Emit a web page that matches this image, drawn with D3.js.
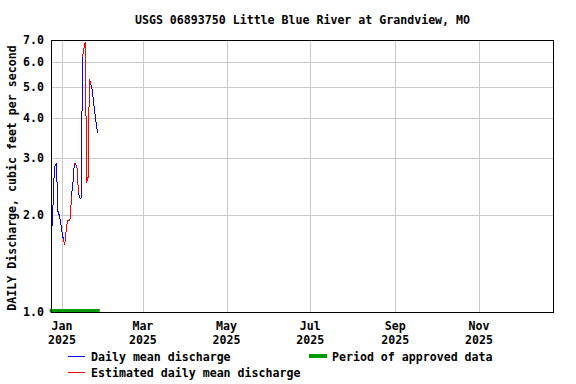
<!DOCTYPE html>
<html>
<head>
<meta charset="utf-8">
<script src="https://cdn.jsdelivr.net/npm/d3@7"></script>
<style>
	body { margin: 0; background: #fff; }
	svg text { font-family: "DejaVu Sans Mono", monospace; font-weight: bold; font-size: 11.6px; fill: #000; }
</style>
</head>
<body>
<div id="chart"></div>
<script>
// daily values, starting 2024-12-24
var startDate = '2024-12-24'
var dischargeValues = [1.81, 1.86, 2.55, 2.86, 2.90, 2.06, 2.00, 1.90, 1.78, 1.68,
	1.61, 1.78, 1.93, 1.92, 1.95, 2.30, 2.52, 2.90, 2.88, 2.80,
	2.35, 2.26, 2.26, 6.20, 6.60, 6.90, 2.52, 2.62, 5.30, 5.10,
	4.90, 4.50, 4.15, 3.85, 3.60]
// 1 = estimated
var estimatedFlags = [0, 0, 0, 0, 0, 0, 0, 0, 0, 0,
	1, 1, 1, 1, 1, 1, 0, 0, 1, 1,
	1, 0, 0, 0, 1, 1, 1, 1, 1, 1,
	0, 0, 0, 0, 0]
var approvedPeriod = ['2024-12-23', '2025-01-28T12:00']
var yTicks = [1, 2, 3, 4, 5, 6, 7]
var xTickDates = ['2025-01-01', '2025-03-01', '2025-05-01', '2025-07-01', '2025-09-01', '2025-11-01']
var xTickMonths = ['Jan', 'Mar', 'May', 'Jul', 'Sep', 'Nov']
var xTickYears = ['2025', '2025', '2025', '2025', '2025', '2025']
var xDomain = ['2024-12-24', '2025-12-25']
var titleText = 'USGS 06893750 Little Blue River at Grandview, MO'
var yLabel = 'DAILY Discharge, cubic feet per second'

var width = 576, height = 384
var plotL = 51, plotR = 553, plotT = 40, plotB = 312

var parse = function(s){ return new Date(s.length > 10 ? s : s + 'T00:00') }

var svg = d3.select('#chart').append('svg')
	.attr('width', width)
	.attr('height', height)

var x = d3.scaleTime()
	.domain(xDomain.map(parse))
	.range([plotL, plotR])
var y = d3.scaleLog()
	.domain([1, 7])
	.range([plotB, plotT])

var t0 = parse(startDate)
var data = dischargeValues.map(function(v, i){
	return { date: d3.timeDay.offset(t0, i), value: v, est: estimatedFlags[i] }
})

// grid
svg.append('g').selectAll('line')
	.data(yTicks.slice(1, -1))
	.enter().append('line')
	.attr('x1', plotL).attr('x2', plotR)
	.attr('y1', function(d){ return Math.round(y(d)) + 0.5 })
	.attr('y2', function(d){ return Math.round(y(d)) + 0.5 })
	.attr('stroke', '#c8c8c8')

svg.append('g').selectAll('line')
	.data(xTickDates)
	.enter().append('line')
	.attr('x1', function(d){ return Math.round(x(parse(d))) + 0.5 })
	.attr('x2', function(d){ return Math.round(x(parse(d))) + 0.5 })
	.attr('y1', plotT).attr('y2', plotB)
	.attr('stroke', '#c8c8c8')

// approved period bar
svg.append('rect')
	.attr('x', x(parse(approvedPeriod[0])))
	.attr('width', x(parse(approvedPeriod[1])) - x(parse(approvedPeriod[0])))
	.attr('y', plotB - 3)
	.attr('height', 3.5)
	.attr('fill', '#009900')

// discharge segments, coloured by the status of the end point
var line = d3.line()
	.x(function(d){ return x(d.date) })
	.y(function(d){ return y(d.value) })

var segs = []
for (var i = 1; i < data.length; i++){
	segs.push([data[i-1], data[i]])
}
svg.append('g').selectAll('path')
	.data(segs)
	.enter().append('path')
	.attr('d', line)
	.attr('fill', 'none')
	.attr('stroke-width', 1)
	.attr('shape-rendering', 'crispEdges')
	.attr('stroke', function(d){ return d[1].est ? '#ff0000' : '#0000ff' })

// frame
svg.append('rect')
	.attr('x', plotL + 0.5).attr('y', plotT + 0.5)
	.attr('width', plotR - plotL).attr('height', plotB - plotT)
	.attr('fill', 'none')
	.attr('stroke', '#000')

// y tick labels
svg.append('g').selectAll('text')
	.data(yTicks)
	.enter().append('text')
	.attr('x', 44)
	.attr('y', function(d){ return y(d) + 4 })
	.attr('text-anchor', 'end')
	.text(function(d){ return d3.format('.1f')(d) })

// x tick labels
var xl = svg.append('g').selectAll('g')
	.data(xTickDates)
	.enter().append('g')
xl.append('text')
	.attr('x', function(d){ return x(parse(d)) })
	.attr('y', 330)
	.attr('text-anchor', 'middle')
	.text(function(d, i){ return xTickMonths[i] })
xl.append('text')
	.attr('x', function(d){ return x(parse(d)) })
	.attr('y', 344)
	.attr('text-anchor', 'middle')
	.text(function(d, i){ return xTickYears[i] })

// title
svg.append('text')
	.attr('x', (plotL + plotR) / 2 + 0.5)
	.attr('y', 24)
	.attr('text-anchor', 'middle')
	.text(titleText)

// y axis label
svg.append('text')
	.attr('transform', 'translate(16,' + ((plotT + plotB) / 2 + 2) + ') rotate(-90)')
	.attr('text-anchor', 'middle')
	.text(yLabel)

// legend
var legend = [
	{ label: 'Daily mean discharge', color: '#0000ff', kind: 'line', lx: 68, ly: 356 },
	{ label: 'Estimated daily mean discharge', color: '#ff0000', kind: 'line', lx: 68, ly: 372 },
	{ label: 'Period of approved data', color: '#009900', kind: 'bar', lx: 309, ly: 356 }
]
var lg = svg.append('g').selectAll('g')
	.data(legend)
	.enter().append('g')
lg.append('rect')
	.attr('x', function(d){ return d.lx })
	.attr('y', function(d){ return d.kind == 'bar' ? d.ly - 2 : d.ly })
	.attr('width', function(d){ return d.kind == 'bar' ? 18 : 17 })
	.attr('height', function(d){ return d.kind == 'bar' ? 4 : 1 })
	.attr('fill', function(d){ return d.color })
lg.append('text')
	.attr('x', function(d){ return d.lx + 23 })
	.attr('y', function(d){ return d.ly + 5 })
	.text(function(d){ return d.label })
</script>
</body>
</html>
